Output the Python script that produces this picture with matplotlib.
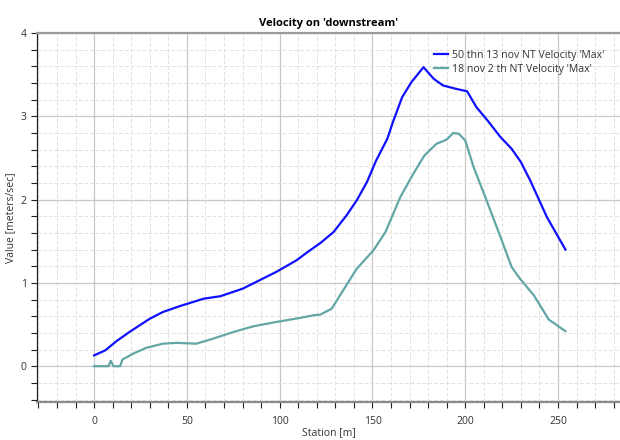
import matplotlib
matplotlib.use("Agg")
import matplotlib.pyplot as plt
from matplotlib.ticker import MultipleLocator

plt.rcParams['font.family'] = ['Open Sans', 'DejaVu Sans']

title = "Velocity on 'downstream'"
xlabel = "Station [m]"
ylabel = "Value [meters/sec]"
label_a = "50 thn 13 nov NT Velocity 'Max'"
label_b = "18 nov 2 th NT Velocity 'Max'"

station_a = [0, 6, 12, 19, 30, 37, 46, 59, 68, 80, 89, 98, 109, 115, 122, 129, 136,
             141.5, 147, 152, 158, 161, 166, 171, 177.5, 183, 188, 195, 201, 206,
             212, 219, 225, 230, 235, 244, 254]
vel_a = [0.13, 0.19, 0.30, 0.41, 0.57, 0.65, 0.72, 0.81, 0.84, 0.93, 1.03, 1.13, 1.27,
         1.37, 1.48, 1.61, 1.81, 1.99, 2.21, 2.47, 2.73, 2.93, 3.23, 3.41, 3.59, 3.45,
         3.37, 3.33, 3.30, 3.11, 2.95, 2.75, 2.61, 2.45, 2.23, 1.79, 1.40]

station_b = [0, 7.7, 9, 10.4, 14, 15.3, 21, 28, 37, 44.5, 55, 64, 75, 86, 98, 111,
             118, 122, 128, 132.5, 141.5, 150.5, 157, 165, 172, 178, 184.5, 190,
             193.5, 196.5, 200, 204.5, 211.5, 219, 225, 229.5, 237, 245, 254]
vel_b = [0.0, 0.0, 0.065, 0.0, 0.0, 0.08, 0.15, 0.22, 0.27, 0.28, 0.27, 0.33, 0.41,
         0.48, 0.53, 0.58, 0.61, 0.62, 0.69, 0.85, 1.17, 1.39, 1.61, 2.03, 2.31, 2.53,
         2.67, 2.72, 2.80, 2.79, 2.71, 2.39, 1.99, 1.55, 1.19, 1.05, 0.85, 0.56, 0.42]

fig = plt.figure(figsize=(6.2, 4.4), dpi=100)
ax = fig.add_axes([37/620, 1 - 402/440, 1 - 37/620, (402 - 33)/440])

ax.plot(station_a, vel_a, color='#1010ff', lw=1.6, label=label_a, zorder=3)
ax.plot(station_b, vel_b, color='#63a6a6', lw=1.6, label=label_b, zorder=3)

ax.set_xlim(-30.8, 283.4)
ax.set_ylim(-0.43, 4.0)

ax.xaxis.set_major_locator(MultipleLocator(50))
ax.xaxis.set_minor_locator(MultipleLocator(10))
ax.yaxis.set_major_locator(MultipleLocator(1))
ax.yaxis.set_minor_locator(MultipleLocator(0.2))

ax.grid(which='major', color='#c8c8c8', lw=0.9, ls='-', zorder=0)
ax.grid(which='minor', color='#e2e2e2', lw=0.7, ls=(0, (4, 2)), zorder=0)
ax.set_axisbelow(True)

ax.tick_params(which='both', direction='out', length=4, width=0.8, color='#202020',
               labelsize=7.5, labelcolor='#333333')
ax.tick_params(axis='x', pad=6)

ax.spines['right'].set_visible(False)
ax.spines['top'].set_color('#9a9a9a')
ax.spines['top'].set_linewidth(1.6)
ax.spines['bottom'].set_color('#8a8a8a')
ax.spines['bottom'].set_linewidth(1.6)
ax.spines['left'].set_color('#202020')
ax.spines['left'].set_linewidth(0.9)

ax.set_title(title, fontsize=8, fontweight='bold', pad=5)
ax.set_xlabel(xlabel, fontsize=7.5, color='#333333', labelpad=0)
ax.set_ylabel(ylabel, fontsize=7.5, color='#333333', labelpad=3)

leg = ax.legend(loc='upper left', bbox_to_anchor=((434 - 37) / (620 - 37), 1 - (50 - 33) / 369),
                frameon=False, fontsize=7.6, handlelength=1.3, handletextpad=0.45,
                labelspacing=0.3, borderaxespad=0, borderpad=0)
for t in leg.get_texts():
    t.set_color('#333333')

fig.savefig('out.png', dpi=100)
